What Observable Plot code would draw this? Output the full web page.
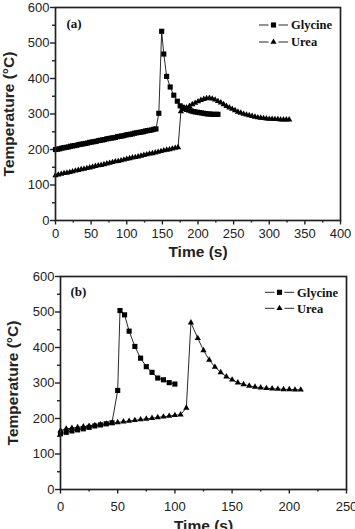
<!DOCTYPE html>
<html>
<head>
<meta charset="utf-8">
<script src="https://cdn.jsdelivr.net/npm/d3@7"></script>
<script src="https://cdn.jsdelivr.net/npm/@observablehq/plot@0.6"></script>
<style>
  body { margin: 0; background: #fff; }
  #chart { width: 355px; }
  #chart svg { display: block; }
</style>
</head>
<body>
<div id="chart"></div>
<script>
// ---- Panel (a): combustion temperature vs time ----
const glyA_t = [0,3,6,9,12,15,18,21,24,27,30,33,36,39,42,45,48,51,54,57,60,63,66,69,72,75,78,81,84,87,90,93,96,99,102,105,108,111,114,117,120,123,126,129,132,135,138,141,
  145,149,152,156,161,166,171,175,178,181,184,187,190,193,196,199,202,205,208,211,214,217,220,223,226,228];
const glyA_T = [200,201,202,204,205,206,207,209,210,211,212,214,215,216,217,218,220,221,222,223,225,226,227,228,230,231,232,233,234,236,237,238,239,241,242,243,244,246,247,248,249,250,252,253,254,255,257,258,
  302,533,469,406,376,353,336,323,319,316,313,311,309,307,306,305,304,303,302,301,300,300,299,299,299,299];

const ureaA_t = [0,4,8,12,16,20,24,28,32,36,40,44,48,52,56,60,64,68,72,76,80,84,88,92,96,100,104,108,112,116,120,124,128,132,136,140,144,148,152,156,160,164,168,172,
  176,180,184,188,192,196,200,204,208,212,216,220,224,228,232,236,240,244,248,252,256,260,264,268,272,276,280,284,288,292,296,300,304,308,312,316,320,324,328];
const ureaA_T = [127,129,131,133,134,136,138,140,142,144,145,147,149,151,153,155,156,158,160,162,164,166,167,169,171,173,175,177,178,180,182,184,186,188,189,191,193,195,197,199,200,202,204,206,
  307,313,318,322,327,331,335,339,342,344,345,343,340,336,332,327,322,318,314,310,306,303,300,298,296,294,292,290,289,288,287,286,286,285,285,284,284,284,284];

// ---- Panel (b) ----
const glyB_t = [0,5,10,15,20,25,30,35,40,45,50,52,56,60,65,70,75,80,85,90,95,100];
const glyB_T = [157,161,165,168,171,175,179,182,185,188,279,504,492,446,403,370,346,330,314,309,301,297];

const ureaB_t = [0,5,10,15,20,25,30,35,40,45,50,55,60,65,70,75,80,85,90,95,100,105,110,
  114,120,125,130,135,140,145,150,155,160,165,170,175,180,185,190,195,200,205,210];
const ureaB_T = [166,171,173,175,177,179,181,183,185,187,189,191,193,195,197,199,201,203,205,207,209,211,230,
  470,426,392,365,345,330,318,309,301,296,292,289,287,285,284,283,282,282,281,281];

// ---- Tick values ----
const yMajor = [0,100,200,300,400,500,600];
const yMinor = [50,150,250,350,450,550];
const xMajorA = [0,50,100,150,200,250,300,350,400];
const xMinorA = [25,75,125,175,225,275,325,375];
const xMajorB = [0,50,100,150,200,250];
const xMinorB = [25,75,125,175,225];

const seriesNames = ["Glycine", "Urea"];
const xTitle = "Time (s)";
const yTitle = "Temperature (\u00B0C)";

const toRows = (ts, vs) => ts.map((t, i) => ({t, T: vs[i]}));

const sans = "'Liberation Sans', Arial, Helvetica, sans-serif";
const serif = "'Liberation Serif', 'Times New Roman', serif";
const ink = "#222";

function panel(p) {
  const gly = toRows(p.glyT, p.glyV);
  const urea = toRows(p.ureaT, p.ureaV);
  const svg = Plot.plot({
    width: 355,
    height: p.height,
    marginLeft: p.ml, marginRight: p.mr, marginTop: p.mt, marginBottom: p.mb,
    style: {fontFamily: sans, fontSize: "13px", color: ink, background: "#fff"},
    x: {domain: p.xDomain},
    y: {domain: [0, 600]},
    marks: [
      Plot.axisX({ticks: p.xMajor, tickSize: 4.5, tickPadding: p.xPad, label: null, tickFormat: d => d, strokeWidth: 1.4}),
      Plot.axisX({ticks: p.xMinor, tickSize: 2.5, text: null, label: null, strokeWidth: 1.4}),
      Plot.axisY({ticks: yMajor, tickSize: 5, tickPadding: 1, label: null, tickFormat: d => d, strokeWidth: 1.4}),
      Plot.axisY({ticks: yMinor, tickSize: 3, text: null, label: null, strokeWidth: 1.4}),
      Plot.line(gly, {x: "t", y: "T", stroke: "#111", strokeWidth: 0.9}),
      Plot.line(urea, {x: "t", y: "T", stroke: "#111", strokeWidth: 0.9}),
      Plot.dot(gly, {x: "t", y: "T", symbol: "square", r: 2.9, fill: "#000"}),
      Plot.dot(urea, {x: "t", y: "T", symbol: "triangle", r: 2.3, fill: "#000"}),
      Plot.frame({stroke: ink, strokeWidth: 1.7}),
      Plot.text([xTitle], {frameAnchor: "bottom", textAnchor: "middle", lineAnchor: "middle", dy: p.xTitleDy,
        fontWeight: "bold", fontSize: 15.5, fill: ink}),
      Plot.text([yTitle], {frameAnchor: "left", textAnchor: "middle", lineAnchor: "middle", rotate: -90, dx: p.yTitleDx,
        fontWeight: "bold", fontSize: 15.5, fill: ink}),
      Plot.text([p.tag], {frameAnchor: "top-left", textAnchor: "start", lineAnchor: "middle", dx: p.tagDx, dy: p.tagDy,
        fontFamily: serif, fontWeight: "bold", fontSize: 13, fill: "#111"})
    ]
  });

  // Legend in the upper right corner of the frame
  const right = 355 - p.mr;
  const g = d3.select(svg).append("g")
    .attr("font-family", serif).attr("font-weight", "bold").attr("font-size", 12.5)
    .attr("fill", "#111").attr("text-anchor", "start");
  const symbols = [d3.symbol(d3.symbolSquare, Math.PI * 2.9 * 2.9), d3.symbol(d3.symbolTriangle, Math.PI * 2.3 * 2.3)];
  seriesNames.forEach((name, i) => {
    const y = p.mt + p.legendDy[i];
    const x0 = right - 81, x1 = right - 52, xm = (x0 + x1) / 2;
    g.append("line").attr("x1", x0).attr("x2", xm - 5).attr("y1", y).attr("y2", y).attr("stroke", "#111").attr("stroke-width", 0.9);
    g.append("line").attr("x1", xm + 5).attr("x2", x1).attr("y1", y).attr("y2", y).attr("stroke", "#111").attr("stroke-width", 0.9);
    g.append("path").attr("d", symbols[i]()).attr("transform", `translate(${xm},${y})`).attr("fill", "#000");
    g.append("text").attr("x", right - 49).attr("y", y).attr("dy", "0.35em").text(name);
  });
  return svg;
}

const root = document.getElementById("chart");
root.appendChild(panel({
  height: 262, ml: 55, mr: 15, mt: 7, mb: 42,
  xDomain: [0, 400], xMajor: xMajorA, xMinor: xMinorA, xPad: 4,
  glyT: glyA_t, glyV: glyA_T, ureaT: ureaA_t, ureaV: ureaA_T,
  xTitleDy: 31.5, yTitleDx: -46.5, tag: "(a)", tagDx: 11, tagDy: 16,
  legendDy: [18, 35]
}));
root.appendChild(panel({
  height: 267, ml: 60, mr: 9, mt: 14, mb: 40,
  xDomain: [0, 250], xMajor: xMajorB, xMinor: xMinorB, xPad: 7.5,
  glyT: glyB_t, glyV: glyB_T, ureaT: ureaB_t, ureaV: ureaB_T,
  xTitleDy: 37, yTitleDx: -47, tag: "(b)", tagDx: 10, tagDy: 15,
  legendDy: [16.3, 32.3]
}));
</script>
</body>
</html>
